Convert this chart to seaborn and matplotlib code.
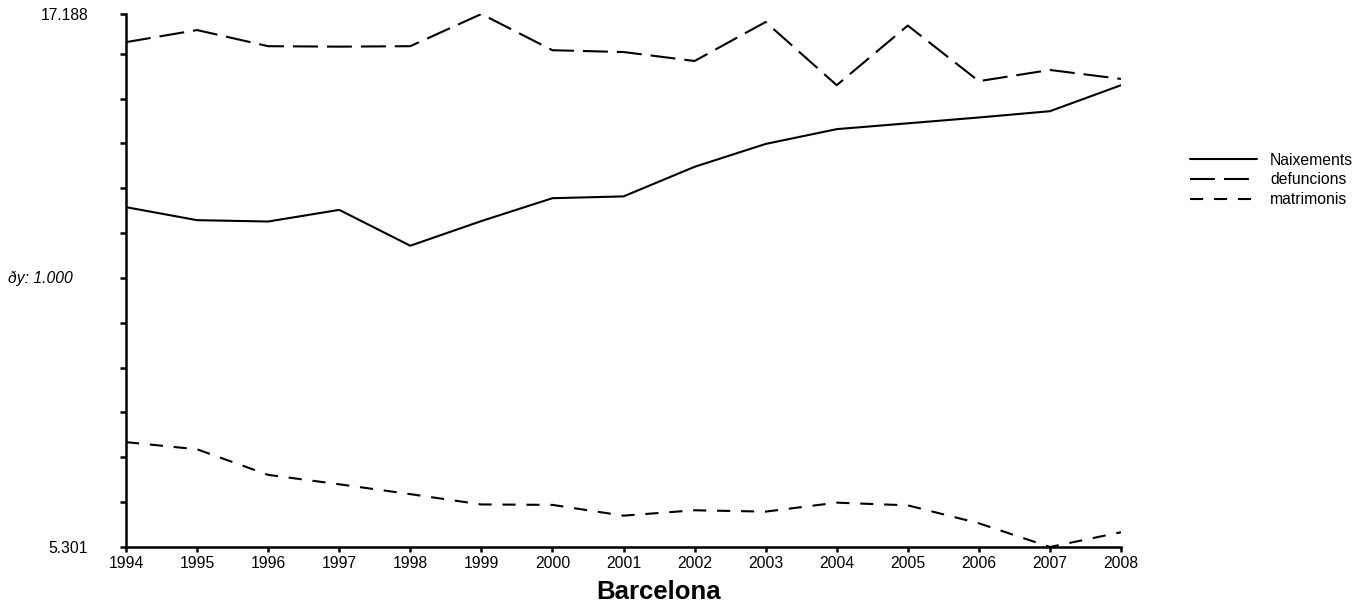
import pandas as pd
import matplotlib
matplotlib.use("Agg")
import matplotlib.pyplot as plt
import seaborn as sns

years = list(range(1994, 2009))
naixements = [12880, 12590, 12560, 12820, 12020, 12570, 13080, 13120, 13780, 14290, 14620, 14750, 14880, 15020, 15600]
defuncions = [16560, 16830, 16470, 16460, 16470, 17188, 16380, 16340, 16140, 17010, 15600, 16930, 15690, 15940, 15740]
matrimonis = [7640, 7480, 6910, 6700, 6480, 6250, 6240, 6000, 6120, 6090, 6290, 6230, 5830, 5301, 5630]
series_names = ["Naixements", "defuncions", "matrimonis"]

df = pd.DataFrame({
    "any": years * 3,
    "valor": naixements + defuncions + matrimonis,
    "serie": [n for n in series_names for _ in years],
})

sns.set_style("white")
plt.rcParams['font.family'] = ['Liberation Sans', 'DejaVu Sans']
plt.rcParams['font.size'] = 11.3
plt.rcParams['text.color'] = 'black'

fig = plt.figure(figsize=(13.72, 6.08), dpi=100)
ax = fig.add_axes([126 / 1372, 1 - 547 / 608, (1121 - 126) / 1372, (547 - 14) / 608])

dashes = {"Naixements": "", "defuncions": (12, 4.3), "matrimonis": (6.3, 5.2)}
sns.lineplot(data=df, x="any", y="valor", style="serie", style_order=series_names,
             dashes=dashes, color="black", linewidth=1.5, ax=ax)

ymin, ymax = min(matrimonis), max(defuncions)
ax.set_xlim(years[0], years[-1])
ax.set_ylim(ymin, ymax)

step = 1000
yt = [ymin + k * step for k in range(int((ymax - ymin) // step) + 1)] + [ymax]
ylab = [""] * len(yt)
ylab[0] = f"{ymin:,}".replace(",", ".")
ylab[-1] = f"{ymax:,}".replace(",", ".")
ax.set_yticks(yt)
ax.set_yticklabels(ylab)
ax.set_xticks(years)
ax.set_xticklabels([str(y) for y in years])

for s in ["top", "right"]:
    ax.spines[s].set_visible(False)
for s in ["left", "bottom"]:
    ax.spines[s].set_color("black")
    ax.spines[s].set_linewidth(1.8)
ax.tick_params(axis="y", left=True, length=4.3, width=1.8, pad=23, labelsize=11.3, colors="black")
ax.tick_params(axis="x", bottom=True, length=3.5, width=1.8, pad=3, labelsize=11.3, colors="black")

ax.set_ylabel("")
ax.set_xlabel("Barcelona", fontsize=18.5, fontweight="bold", color="black")
ax.xaxis.set_label_coords((659 - 126) / 995, -(580 - 547) / 533)
fig.text(8 / 1372, 1 - 278 / 608, "ðy: 1.000", fontsize=11.3, style="italic", va="center", ha="left")

ax.legend(loc="center left", bbox_to_anchor=(1190 / 1372, 1 - 180 / 608), bbox_transform=fig.transFigure,
          frameon=False, fontsize=11.3, borderpad=0, borderaxespad=0,
          handlelength=4.25, labelspacing=0.3, handletextpad=0.85)

fig.savefig("out.png", dpi=100)
